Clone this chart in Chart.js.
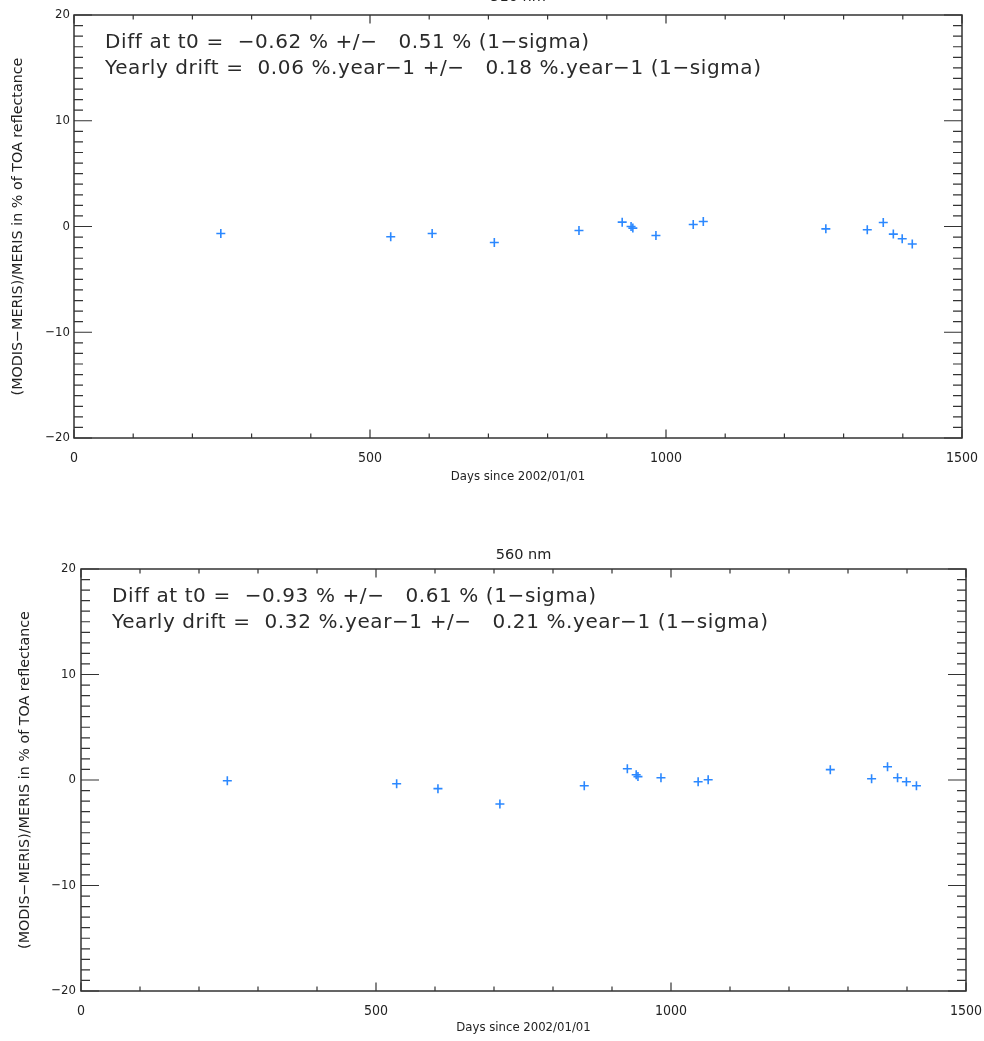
<!DOCTYPE html>
<html>
<head>
<meta charset="utf-8">
<script src="https://cdn.jsdelivr.net/npm/chart.js@4.4.1/dist/chart.umd.min.js"></script>
<style>
  html, body { margin: 0; padding: 0; background: #fff; overflow: hidden; }
  body { width: 984px; height: 1041px; position: relative; }
  .panel { position: absolute; left: 0; width: 984px; }
  #top { top: -30px; height: 530px; }
  #bottom { top: 540px; height: 501px; }
</style>
</head>
<body>
<div class="panel" id="top"><canvas id="chartTop"></canvas></div>
<div class="panel" id="bottom"><canvas id="chartBottom"></canvas></div>
<script>
// days since 2002/01/01 of each match-up (same dates in both bands)
const days = [248, 535, 605, 710, 853, 926, 941, 944, 983, 1046, 1063, 1270, 1340, 1367, 1384, 1399, 1416];

// (MODIS-MERIS)/MERIS in %
const diffTop = [-0.66, -0.97, -0.66, -1.51, -0.38, 0.41, 0.0, -0.15, -0.85, 0.19, 0.47, -0.22, -0.31, 0.38, -0.72, -1.16, -1.66];
const diff560 = [-0.07, -0.35, -0.82, -2.27, -0.54, 1.07, 0.5, 0.32, 0.22, -0.16, 0.03, 0.98, 0.12, 1.26, 0.22, -0.16, -0.54];

const xTickLabels = [0, 500, 1000, 1500];
const yTickLabels = [-20, -10, 0, 10, 20];
const xMinorStep = 100;
const yMinorStep = 1;

const titles = ['510 nm', '560 nm'];
const statsTop = [
  'Diff at t0 =  \u22120.62 % +/\u2212   0.51 % (1\u2212sigma)',
  'Yearly drift =  0.06 %.year\u22121 +/\u2212   0.18 %.year\u22121 (1\u2212sigma)'
];
const stats560 = [
  'Diff at t0 =  \u22120.93 % +/\u2212   0.61 % (1\u2212sigma)',
  'Yearly drift =  0.32 %.year\u22121 +/\u2212   0.21 %.year\u22121 (1\u2212sigma)'
];

const ink = '#222';
const cond = "'DejaVu Sans Condensed', 'DejaVu Sans', sans-serif";
const fmt = v => (v < 0 ? '\u2212' + Math.abs(v) : String(v));

// IDL-like box: frame, inward ticks, title and the fit statistics
function idlBox(title, stats, titleGap) {
  return {
    id: 'idlBox',
    afterDatasetsDraw(chart) {
      const ctx = chart.ctx;
      const a = chart.chartArea;
      const xs = chart.scales.x, ys = chart.scales.y;
      ctx.save();
      ctx.strokeStyle = '#333';
      ctx.lineWidth = 1.5;
      ctx.strokeRect(a.left, a.top, a.right - a.left, a.bottom - a.top);

      ctx.lineWidth = 1.2;
      ctx.beginPath();
      for (let v = xs.min; v <= xs.max; v += xMinorStep) {
        const px = xs.getPixelForValue(v);
        const len = xTickLabels.includes(v) ? 8.5 : 4.5;
        ctx.moveTo(px, a.bottom); ctx.lineTo(px, a.bottom - len);
        ctx.moveTo(px, a.top); ctx.lineTo(px, a.top + len);
      }
      for (let v = ys.min; v <= ys.max; v += yMinorStep) {
        const py = ys.getPixelForValue(v);
        const len = yTickLabels.includes(v) ? 18 : 9;
        ctx.moveTo(a.left, py); ctx.lineTo(a.left + len, py);
        ctx.moveTo(a.right, py); ctx.lineTo(a.right - len, py);
      }
      ctx.stroke();

      ctx.fillStyle = ink;
      ctx.textAlign = 'center';
      ctx.textBaseline = 'middle';
      ctx.font = "14.5px 'DejaVu Sans', sans-serif";
      ctx.fillText(title, (a.left + a.right) / 2, a.top - titleGap);

      ctx.textAlign = 'left';
      ctx.fillStyle = '#2a2a2a';
      ctx.font = "20px 'DejaVu Sans', sans-serif";
      ctx.letterSpacing = '0.6px';
      ctx.fillText(stats[0], a.left + 31, a.top + 28);
      ctx.fillText(stats[1], a.left + 31, a.top + 54);
      ctx.restore();
    }
  };
}

function makeChart(id, values, title, stats, geo) {
  const ctx = document.getElementById(id).getContext('2d');
  return new Chart(ctx, {
    type: 'scatter',
    data: {
      datasets: [{
        data: days.map((d, i) => ({ x: d, y: values[i] })),
        pointStyle: 'cross',
        pointRadius: 4.5,
        borderColor: '#2b88ff',
        backgroundColor: '#2b88ff',
        borderWidth: 1.6
      }]
    },
    options: {
      responsive: true,
      maintainAspectRatio: false,
      animation: false,
      events: [],
      layout: { padding: { top: geo.top, right: geo.right, left: 0, bottom: 0 } },
      plugins: { legend: { display: false }, tooltip: { enabled: false } },
      scales: {
        x: {
          type: 'linear',
          min: 0,
          max: 1500,
          afterBuildTicks: s => { s.ticks = xTickLabels.map(v => ({ value: v })); },
          afterFit: s => { s.height = geo.xh; s.paddingLeft = 0; s.paddingRight = 0; },
          grid: { display: false, drawTicks: false, tickLength: 0 },
          border: { display: false },
          ticks: {
            color: ink, padding: 12, maxRotation: 0, autoSkip: false,
            font: { family: cond, size: 14 },
            callback: v => fmt(v)
          },
          title: {
            display: true,
            text: 'Days since 2002/01/01',
            color: ink,
            font: { family: cond, size: 13 },
            padding: { top: 0, bottom: geo.xtp }
          }
        },
        y: {
          min: -20,
          max: 20,
          afterBuildTicks: s => { s.ticks = yTickLabels.map(v => ({ value: v })); },
          afterFit: s => { s.width = geo.yw; s.paddingTop = 0; s.paddingBottom = 0; },
          grid: { display: false, drawTicks: false, tickLength: 0 },
          border: { display: false },
          ticks: {
            color: ink, padding: geo.ytp,
            font: { family: cond, size: 13 },
            callback: v => fmt(v)
          },
          title: {
            display: true,
            text: '(MODIS\u2212MERIS)/MERIS in % of TOA reflectance',
            color: ink,
            font: { family: "'DejaVu Sans', sans-serif", size: 14.3 },
            padding: { top: geo.ttp, bottom: 0 }
          }
        }
      }
    },
    plugins: [idlBox(title, stats, geo.tg)]
  });
}

makeChart('chartTop', diffTop, titles[0], statsTop,
  { top: 45, right: 22, xh: 62, yw: 74, xtp: 16, ytp: 4, ttp: 10, tg: 18 });
makeChart('chartBottom', diff560, titles[1], stats560,
  { top: 29, right: 18, xh: 50, yw: 81, xtp: 6, ytp: 5, ttp: 17, tg: 14 });
</script>
</body>
</html>
